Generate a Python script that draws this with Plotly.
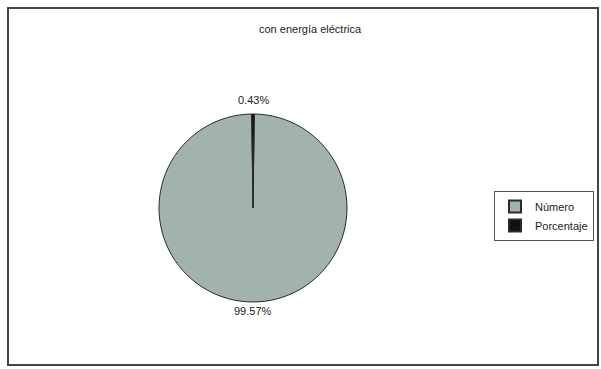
import plotly.graph_objects as go

# Share of households with electric power
labels = ["Número", "Porcentaje"]
values = [99.57, 0.43]
colors = ["#a2b2ac", "#111111"]
title = "con energía eléctrica"

W, H = 601, 369
FONT = dict(family="Liberation Sans, Arial, sans-serif", size=11, color="#222222")

# rotate so the small slice sits centred at 12 o'clock
rotation = values[1] / sum(values) * 360 / 2

fig = go.Figure(
    go.Pie(
        labels=labels,
        values=values,
        sort=False,
        direction="clockwise",
        rotation=rotation,
        marker=dict(colors=colors, line=dict(color="#2a2a2a", width=1)),
        textinfo="none",
        domain=dict(x=[158 / W, 348 / W], y=[1 - 302 / H, 1 - 114 / H]),
        hoverinfo="skip",
    )
)

# value labels: small slice above the pie, large slice below it
label_pos = {"Porcentaje": 1 - 100 / H, "Número": 1 - 311 / H}
value_annots = [
    dict(
        text=f"{v:.2f}%",
        x=253 / W,
        y=label_pos[lab],
        xref="paper",
        yref="paper",
        xanchor="center",
        yanchor="middle",
        showarrow=False,
        font=FONT,
    )
    for lab, v in zip(labels, values)
]

fig.update_layout(
    width=W,
    height=H,
    margin=dict(l=0, r=0, t=0, b=0),
    paper_bgcolor="white",
    plot_bgcolor="white",
    showlegend=True,
    legend=dict(
        x=494 / W,
        y=1 - 191 / H,
        xanchor="left",
        yanchor="top",
        bordercolor="#555555",
        borderwidth=1,
        font=FONT,
        itemsizing="constant",
    ),
    annotations=[
        dict(
            text=title,
            x=310 / W,
            y=1 - 29 / H,
            xref="paper",
            yref="paper",
            xanchor="center",
            yanchor="middle",
            showarrow=False,
            font=FONT,
        )
    ]
    + value_annots,
    shapes=[
        dict(
            type="rect",
            xref="paper",
            yref="paper",
            x0=8 / W,
            x1=598 / W,
            y0=1 - 365 / H,
            y1=1 - 8 / H,
            line=dict(color="#444444", width=2),
        )
    ],
)

fig.write_html("out.html")
